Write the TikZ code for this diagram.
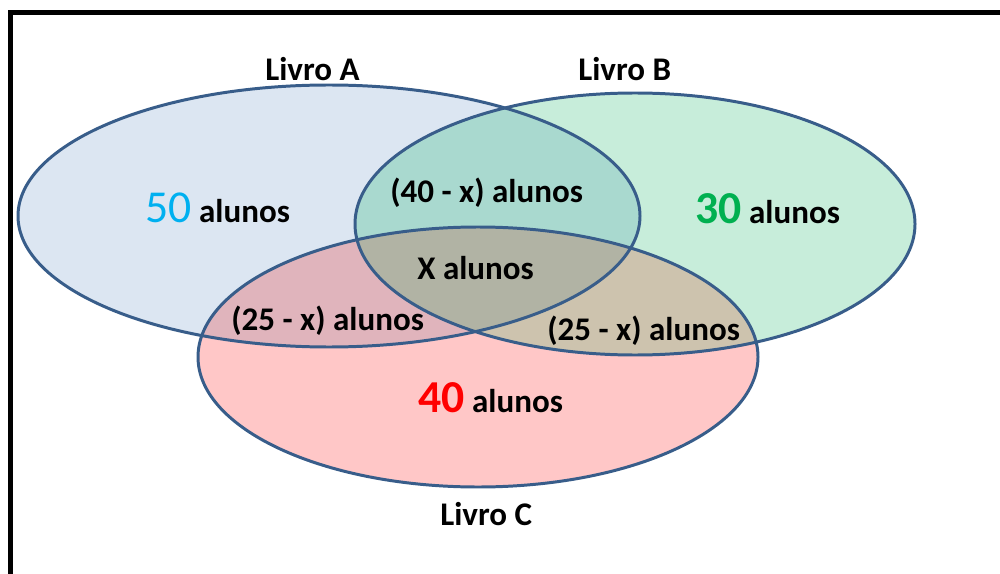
\documentclass[tikz,border=0pt]{standalone}
\usepackage{fontspec}
\setmainfont{Carlito}
\definecolor{fillA}{RGB}{220,230,242}
\definecolor{fillB}{RGB}{199,237,218}
\definecolor{fillC}{RGB}{255,199,199}
\definecolor{fillAB}{RGB}{169,217,207}
\definecolor{fillAC}{RGB}{224,180,188}
\definecolor{fillBC}{RGB}{205,195,174}
\definecolor{fillABC}{RGB}{177,179,164}
\definecolor{lineC}{RGB}{56,93,138}
\definecolor{c50}{RGB}{0,176,240}
\definecolor{c30}{RGB}{0,176,80}
\definecolor{c40}{RGB}{255,0,0}
\begin{document}
\begin{tikzpicture}[x=0.02cm,y=-0.02cm,
  lab/.style={inner sep=0pt, anchor=base west, font=\fontsize{18.8}{22}\selectfont\bfseries},
  big/.style={font=\fontsize{26}{30}\selectfont},
  outline/.style={draw=lineC, line width=1.7pt},
  frame/.style={draw=black, line width=2.9pt}]
\useasboundingbox (0,0) rectangle (1000,574);
% fills
\fill[fillA] (329,216) ellipse [x radius=311, y radius=131];
\fill[fillB] (635,224) ellipse [x radius=280, y radius=131];
\fill[fillC] (478,357) ellipse [x radius=280, y radius=130];
\begin{scope}
  \clip (329,216) ellipse [x radius=311, y radius=131];
  \fill[fillAB] (635,224) ellipse [x radius=280, y radius=131];
  \fill[fillAC] (478,357) ellipse [x radius=280, y radius=130];
\end{scope}
\begin{scope}
  \clip (635,224) ellipse [x radius=280, y radius=131];
  \fill[fillBC] (478,357) ellipse [x radius=280, y radius=130];
  \clip (329,216) ellipse [x radius=311, y radius=131];
  \fill[fillABC] (478,357) ellipse [x radius=280, y radius=130];
\end{scope}
% outlines
\draw[outline] (329,216) ellipse [x radius=311, y radius=131];
\draw[outline] (635,224) ellipse [x radius=280, y radius=131];
\draw[outline] (478,357) ellipse [x radius=280, y radius=130];
% frame
\draw[frame, line join=miter] (10.5,574) -- (10.5,12.5) -- (1000,12.5);
% labels
\node[lab] (livroA) at (265,81) {Livro A};
\node[lab] (livroB) at (578,81) {Livro B};
\node[lab] (livroC) at (440,525) {Livro C};
\node[lab] (onlyA) at (145,222) {{\fontsize{26}{30}\selectfont\mdseries\color{c50}50} alunos};
\node[lab] (onlyB) at (695,223) {{\fontsize{26}{30}\selectfont\color{c30}30} alunos};
\node[lab] (onlyC) at (418,412) {{\fontsize{26}{30}\selectfont\color{c40}40} alunos};
\node[lab] (ab) at (390,203) {(40 - x) alunos};
\node[lab] (abc) at (417,279) {X alunos};
\node[lab] (ac) at (231,330) {(25 - x) alunos};
\node[lab] (bc) at (547,340) {(25 - x) alunos};
\end{tikzpicture}
\end{document}
